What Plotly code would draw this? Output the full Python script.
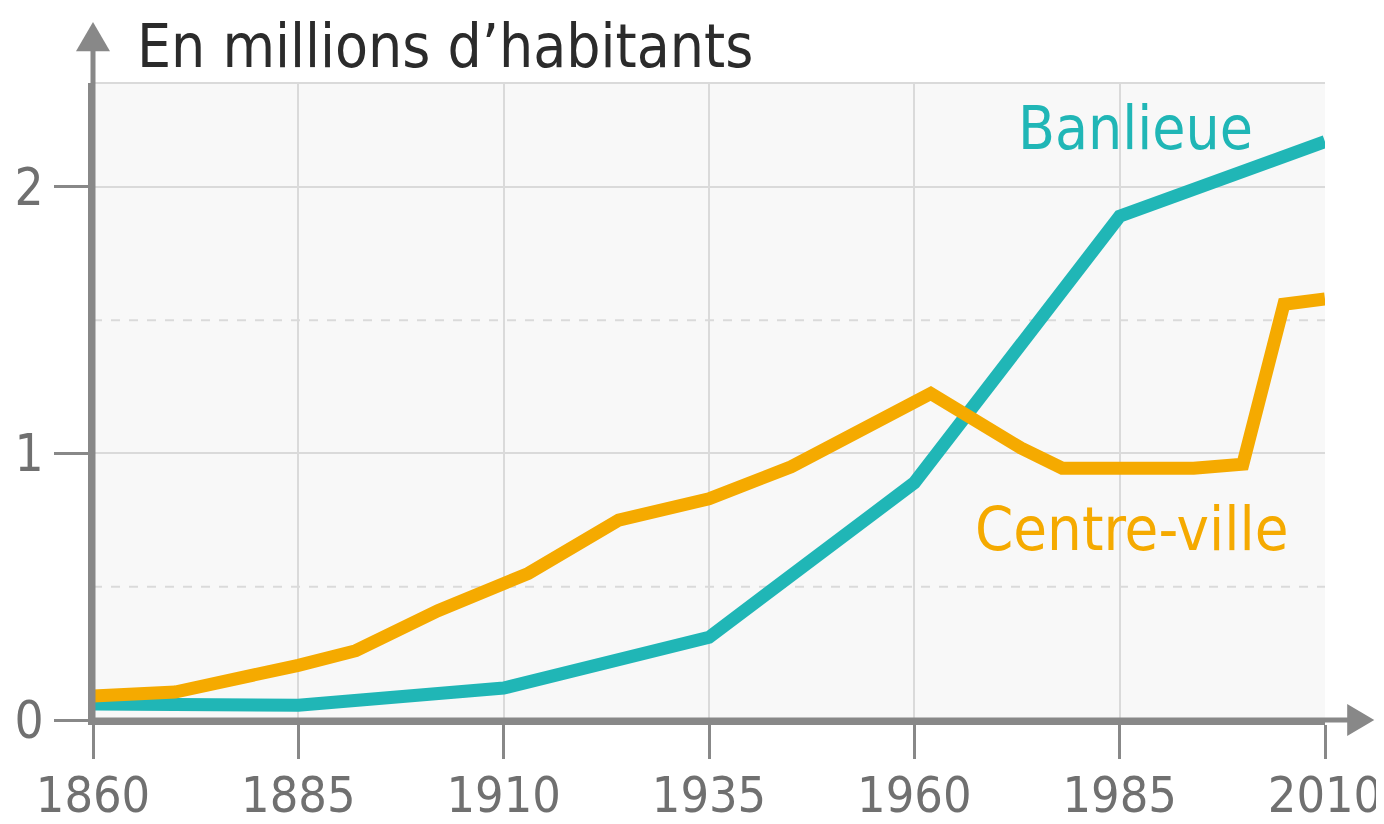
import plotly.graph_objects as go

# Banlieue (suburbs) - millions of inhabitants
banlieue_years = [1860, 1870, 1885, 1910, 1935, 1960, 1985, 2010]
banlieue_vals = [0.06, 0.06, 0.055, 0.12, 0.31, 0.89, 1.89, 2.17]

# Centre-ville (city centre)
centre_years = [1860, 1870, 1885, 1892, 1902, 1910, 1913, 1924, 1935, 1945,
                 1962, 1973, 1978, 1994, 2000, 2005, 2010]
centre_vals = [0.09, 0.105, 0.205, 0.26, 0.41, 0.51, 0.55, 0.75, 0.83, 0.95,
               1.225, 1.02, 0.945, 0.945, 0.96, 1.56, 1.58]

x_ticks = [1860, 1885, 1910, 1935, 1960, 1985, 2010]
y_ticks = [0, 1, 2]
y_dashed = [0.5, 1.5]

TEAL = "#20b6b6"
ORANGE = "#f5aa00"
AXIS = "#888888"
GRID = "#dadada"
FONT = "DejaVu Sans Condensed"

fig = go.Figure()
fig.add_trace(go.Scatter(x=banlieue_years, y=banlieue_vals, mode="lines",
                         line=dict(color=TEAL, width=13), showlegend=False,
                         name="Banlieue"))
fig.add_trace(go.Scatter(x=centre_years, y=centre_vals, mode="lines",
                         line=dict(color=ORANGE, width=13), showlegend=False,
                         name="Centre-ville"))

shapes = []
# dashed half-gridlines
for v in y_dashed:
    shapes.append(dict(type="line", xref="paper", yref="y", x0=0, x1=1, y0=v, y1=v,
                       line=dict(color=GRID, width=2, dash="dash"), layer="below"))
# top border of plot area
shapes.append(dict(type="line", xref="paper", yref="paper", x0=0, x1=1, y0=1, y1=1,
                   line=dict(color=GRID, width=2), layer="below"))
# y axis extension + arrow
shapes.append(dict(type="line", xref="paper", yref="paper", x0=0, x1=0, y0=0, y1=1.06,
                   line=dict(color=AXIS, width=5)))
shapes.append(dict(type="path", xref="paper", yref="paper",
                   path="M -0.0138 1.050 L 0 1.0958 L 0.0138 1.050 Z",
                   fillcolor=AXIS, line=dict(width=0)))
# x axis extension + arrow
shapes.append(dict(type="line", xref="paper", yref="paper", x0=0, x1=1.02, y0=0, y1=0,
                   line=dict(color=AXIS, width=5)))
shapes.append(dict(type="path", xref="paper", yref="paper",
                   path="M 1.018 0.025 L 1.040 0 L 1.018 -0.025 Z",
                   fillcolor=AXIS, line=dict(width=0)))

fig.update_layout(
    width=1376, height=816,
    margin=dict(l=85, r=59, t=75, b=104),
    paper_bgcolor="white",
    plot_bgcolor="#f8f8f8",
    shapes=shapes,
    xaxis=dict(range=[1860, 2010], tickvals=x_ticks, ticktext=[str(t) for t in x_ticks],
               showgrid=True, gridcolor=GRID, gridwidth=2,
               showline=True, linecolor=AXIS, linewidth=5,
               ticks="outside", ticklen=34, tickwidth=3, tickcolor=AXIS,
               ticklabelstandoff=-7,
               tickfont=dict(family=FONT, size=50, color="#707070"),
               zeroline=False, fixedrange=True, automargin=False),
    yaxis=dict(range=[0, 2.39], tickvals=y_ticks, ticktext=[str(t) for t in y_ticks],
               showgrid=True, gridcolor=GRID, gridwidth=2,
               showline=True, linecolor=AXIS, linewidth=5,
               ticks="outside", ticklen=34, tickwidth=3, tickcolor=AXIS,
               tickfont=dict(family=FONT, size=51, color="#707070"),
               zeroline=False, fixedrange=True, automargin=False),
    annotations=[
        dict(text="En millions d\u2019habitants", xref="paper", yref="paper",
             x=0.034, y=1.0, xanchor="left", yanchor="bottom", yshift=0,
             showarrow=False, font=dict(family=FONT, size=60, color="#2b2b2b")),
        dict(text="Banlieue", xref="x", yref="y", x=2001.5, y=2.22,
             xanchor="right", yanchor="middle",
             showarrow=False, font=dict(family=FONT, size=60, color=TEAL)),
        dict(text="Centre-ville", xref="x", yref="y", x=1986.5, y=0.72,
             xanchor="center", yanchor="middle",
             showarrow=False, font=dict(family=FONT, size=61, color=ORANGE)),
    ],
)

fig.write_html("out.html")
